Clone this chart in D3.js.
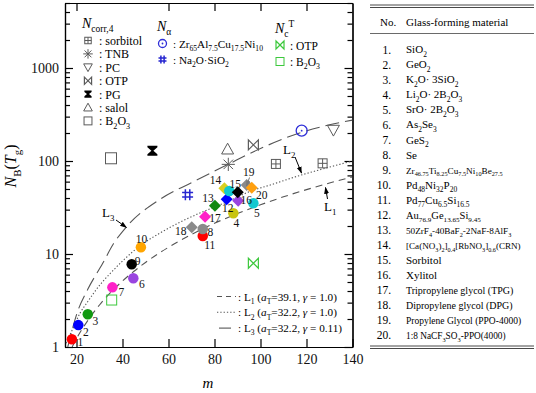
<!DOCTYPE html>
<html>
<head>
<meta charset="utf-8">
<script src="https://cdn.jsdelivr.net/npm/d3@7"></script>
<style>
  body { margin: 0; background: #fff; }
  svg { font-family: "Liberation Serif", "Times New Roman", serif; }
</style>
</head>
<body>
<div id="chart"></div>
<script>
// numbered materials 1..20 : fragility m and N_B(Tg)
const numM  = [18.0, 20.8, 24.9, 88.2, 96.9, 44.7, 35.6, 74.9, 44.0, 48.0, 74.9, 85.3, 80.2, 84.3, 90.1, 90.3, 75.9, 70.1, 94.0, 96.2];
const numNB = [1.21, 1.72, 2.25, 27.4, 35.1, 5.48, 4.38, 18.6, 7.75, 11.8, 15.6, 38.7, 33.0, 50.9, 46.1, 37.4, 25.2, 19.4, 55.2, 51.6];
const extraM = [86.4], extraNB = [47.6];   // unlabelled cyan circle

// N_corr,4 (open grey symbols)
const corrNames = ["sorbitol", "TNB", "PC", "OTP", "PG", "salol", "B_{2}O_{3}"];
const corrM  = [[106.7, 127.0], [86.0], [131.7], [96.9], [53.0], [85.7], [35.0]];
const corrNB = [[93.0, 94.4], [92.0], [215], [149], [129], [134], [107]];
// N_alpha
const alphaNames = ["Zr_{65}Al_{7.5}Cu_{17.5}Ni_{10}", "Na_{2}O·SiO_{2}"];
const alphaM  = [117.9, 68.3];
const alphaNB = [212, 43.4];
// N_c^T
const ncNames = ["OTP", "B_{2}O_{3}"];
const ncM  = [96.9, 35.3];
const ncNB = [7.95, 3.2];

// model lines
const l1M  = [18.1, 20, 25, 30, 35, 40, 45, 50, 60, 70, 80, 90, 100, 110, 120, 130, 140];
const l1NB = [1.0, 1.23, 1.94, 2.83, 3.89, 5.12, 6.53, 8.11, 11.8, 16.2, 21.4, 27.2, 33.8, 41.2, 49.2, 58, 67.6];
const l2M  = [15.5, 18, 21.5, 25, 30, 35, 40, 48.3, 56.3, 65, 75, 85, 95.4, 105, 117.2, 130, 140];
const l2NB = [1.1, 1.5, 2.3, 3.1, 4.6, 6.3, 8.4, 12.6, 16.8, 22, 28.5, 36, 47, 56, 70, 86, 100];
const l3M  = [16.2, 20.3, 24.9, 31.4, 36, 41.8, 56.3, 70.8, 86, 97, 118, 130, 140];
const l3NB = [1.0, 2.34, 4.17, 7.94, 12.8, 19.7, 38.7, 59.8, 92.2, 126, 204, 245, 275];
const lineLegend = ["L_{1} ($a$_{T}=39.1, $γ$ = 1.0)", "L_{2} ($a$_{T}=32.2, $γ$ = 1.0)", "L_{3} ($a$_{T}=32.2, $γ$ = 0.11)"];

const xTicks = [20, 40, 60, 80, 100, 120, 140];
const yTicks = [1, 10, 100, 1000];

const tableNo = d3.range(1, 21);
const tableMat = ["SiO_{2}", "GeO_{2}", "K_{2}O· 3SiO_{2}", "Li_{2}O· 2B_{2}O_{3}", "SrO· 2B_{2}O_{3}", "As_{2}Se_{3}",
  "GeS_{2}", "Se", "Zr_{46.75}Ti_{8.25}Cu_{7.5}Ni_{10}Be_{27.5}", "Pd_{48}Ni_{32}P_{20}", "Pd_{77}Cu_{6.5}Si_{16.5}",
  "Au_{76.9}Ge_{13.65}Si_{9.45}", "50ZrF_{4}-40BaF_{2}-2NaF-8AlF_{3}", "[Ca(NO_{3})_{2}]_{0.4}[RbNO_{3}]_{0.6}(CRN)",
  "Sorbitol", "Xylitol", "Tripropylene glycol (TPG)", "Dipropylene glycol (DPG)", "Propylene Glycol (PPO-4000)",
  "1:8 NaCF_{3}SO_{3}-PPO(4000)"];

// ---- styles ----
const numColor = ["#ff0000", "#0000ff", "#119911", "#c8c410", "#10c8d0", "#9a45e0", "#ff20c8", "#8a8a8a", "#000000", "#ffa500",
  "#ff0000", "#0000ff", "#118811", "#d8d020", "#000000", "#9a45e0", "#ff20c8", "#8a8a8a", "#8a8a8a", "#ffa010"];
const numShape = d3.range(20).map(i => i < 11 ? "circle" : "diamond");
const labelDx = [8.5, 7.5, 7.5, 3, 3.5, 8.5, 9, 7.5, 6, 0.5, 7, 1, -7, -9, -2.5, 8, 10, -11, 2, 10];
const labelDy = [3, 7, 6.5, 10, 10, 6, 5, 3, -3, -8, 9, 9, -7.5, -8, -8, -1, 1, 4, -13.5, 7];
const drawOrder = [10, 0, 1, 2, 3, 4, 5, 6, 7, 8, 9, 11, 12, 13, 18, 19, 15, 14, 16, 17];
const tableSize = [11, 11, 11, 11, 11, 11, 11, 11, 9.2, 11, 11, 10.5, 9.2, 9.1, 11, 11, 10, 10, 9.5, 9.3];

const width = 536, height = 393;
const svg = d3.select("#chart").append("svg").attr("width", width).attr("height", height);
svg.append("rect").attr("width", width).attr("height", height).attr("fill", "#fff");

const x = d3.scaleLinear().domain([15, 140]).range([65, 352.5]);
const y = d3.scaleLog().domain([1, 5000]).range([347, 3]);

svg.append("defs").append("clipPath").attr("id", "clip")
  .append("rect").attr("x", 65).attr("y", 3).attr("width", 287.5).attr("height", 344);

function rich(t, str, fs) {
  const parts = str.match(/_\{[^}]*\}|\^\{[^}]*\}|\$[^$]*\$|[^_^$]+/g);
  let shift = 0;
  parts.forEach(p => {
    let s = p, dy = 0, size = fs, it = false;
    if (p.startsWith("_{")) { s = p.slice(2, -1); dy = fs * 0.3; size = fs * 0.68; }
    else if (p.startsWith("^{")) { s = p.slice(2, -1); dy = -fs * 0.45; size = fs * 0.68; }
    else if (p.startsWith("$")) { s = p.slice(1, -1); it = true; }
    const ts = t.append("tspan").attr("dy", dy - shift).attr("font-size", size).text(s);
    if (it) ts.attr("font-style", "italic");
    shift = dy;
  });
  return t;
}

// ---- axes ----
const minorVals = [];
[1, 10, 100, 1000].forEach(d => d3.range(2, 10).forEach(k => { if (k * d <= 5000) minorVals.push(k * d); }));

function styleAxis(g) {
  g.attr("font-family", null);
  g.selectAll("path.domain").attr("stroke", "#000").attr("stroke-width", 1.2);
  g.selectAll(".tick line").attr("stroke", "#000").attr("stroke-width", 1.2);
  g.selectAll("text").attr("font-family", "Liberation Serif, serif").attr("font-size", 14).attr("fill", "#111");
}
svg.append("g").attr("transform", "translate(0,347)")
  .call(d3.axisBottom(x).tickValues(xTicks).tickSize(-8).tickSizeOuter(0).tickPadding(7).tickFormat(d3.format("d")))
  .call(styleAxis);
svg.append("g").attr("transform", "translate(0,3)")
  .call(d3.axisTop(x).tickValues([20, 60, 80, 100, 120]).tickSize(-8).tickSizeOuter(0).tickFormat(""))
  .call(styleAxis);
svg.append("g").attr("transform", "translate(65,0)")
  .call(d3.axisLeft(y).tickValues(yTicks).tickSize(-8).tickSizeOuter(0).tickPadding(6).tickFormat(d3.format("d")))
  .call(styleAxis);
svg.append("g").attr("transform", "translate(65,0)")
  .call(d3.axisLeft(y).tickValues(minorVals).tickSize(-5).tickSizeOuter(0).tickFormat(""))
  .call(styleAxis);
svg.append("g").attr("transform", "translate(352.5,0)")
  .call(d3.axisRight(y).tickValues(yTicks).tickSize(-8).tickSizeOuter(0).tickFormat(""))
  .call(styleAxis);
svg.append("g").attr("transform", "translate(352.5,0)")
  .call(d3.axisRight(y).tickValues(minorVals).tickSize(-5).tickSizeOuter(0).tickFormat(""))
  .call(styleAxis);

svg.append("text").attr("x", 208).attr("y", 388).attr("text-anchor", "middle")
  .attr("font-size", 15).attr("font-style", "italic").text("m");
rich(svg.append("text").attr("transform", "translate(16,166) rotate(-90)").attr("text-anchor", "middle"),
  "$N$_{B}($T$_{g})", 16);

// ---- model lines ----
const lineGen = d3.line().x(d => x(d[0])).y(d => y(d[1])).curve(d3.curveMonotoneX);
const lines = [
  { m: l1M, nb: l1NB, dash: "7,5" },
  { m: l2M, nb: l2NB, dash: "1.3,2" },
  { m: l3M, nb: l3NB, dash: "14,6" }
];
const plot = svg.append("g").attr("clip-path", "url(#clip)");
lines.forEach(l => {
  plot.append("path").datum(l.m.map((v, i) => [v, l.nb[i]]))
    .attr("d", lineGen).attr("fill", "none").attr("stroke", "#555").attr("stroke-width", 1.1)
    .attr("stroke-dasharray", l.dash);
});

// ---- marker shapes ----
const grey = "#5a5a5a";
function marker(g, type, cx, cy, s, color) {
  const h = s / 2;
  const gg = g.append("g").attr("transform", `translate(${cx},${cy})`);
  if (type === "boxplus") {
    gg.append("rect").attr("x", -h).attr("y", -h).attr("width", s).attr("height", s).attr("fill", "none").attr("stroke", color);
    gg.append("path").attr("d", `M${-h},0H${h}M0,${-h}V${h}`).attr("stroke", color);
  } else if (type === "star") {
    const r = h * 1.1, r2 = r * 0.72;
    gg.append("path").attr("d", `M${-r},0H${r}M0,${-r}V${r}M${-r2},${-r2}L${r2},${r2}M${-r2},${r2}L${r2},${-r2}`)
      .attr("stroke", color);
  } else if (type === "tridown") {
    gg.append("path").attr("d", `M${-h},${-h * 0.8}H${h}L0,${h}Z`).attr("fill", "none").attr("stroke", color);
  } else if (type === "triup") {
    gg.append("path").attr("d", `M${-h},${h * 0.8}H${h}L0,${-h}Z`).attr("fill", "none").attr("stroke", color);
  } else if (type === "bowtie") {
    gg.append("path").attr("d", `M${-h},${-h}L${h},${h}V${-h}L${-h},${h}Z`).attr("fill", "none").attr("stroke", color)
      .attr("stroke-width", 1.2);
  } else if (type === "hourglass") {
    gg.append("path").attr("d", `M${-h},${-h}H${h}V${-h + 1.5}L1,0L${h},${h - 1.5}V${h}H${-h}V${h - 1.5}L-1,0L${-h},${-h + 1.5}Z`)
      .attr("fill", color);
  } else if (type === "square") {
    gg.append("rect").attr("x", -h).attr("y", -h).attr("width", s).attr("height", s).attr("fill", "none").attr("stroke", color);
  } else if (type === "odot") {
    gg.append("circle").attr("r", h).attr("fill", "none").attr("stroke", color).attr("stroke-width", 1.3);
    gg.append("circle").attr("r", 0.9).attr("fill", color);
  } else if (type === "hash") {
    const a = h * 0.4;
    gg.append("path").attr("d", `M${-a},${-h}V${h}M${a},${-h}V${h}M${-h},${-a}H${h}M${-h},${a}H${h}`)
      .attr("stroke", color).attr("stroke-width", 1.5);
  } else if (type === "circle") {
    gg.append("circle").attr("r", h).attr("fill", color);
  } else if (type === "diamond") {
    gg.append("path").attr("d", `M0,${-h}L${h},0L0,${h}L${-h},0Z`).attr("fill", color);
  }
}
const corrShape = ["boxplus", "star", "tridown", "bowtie", "hourglass", "triup", "square"];
const corrColor = [grey, grey, grey, grey, "#000", grey, grey];
const corrSize = [9, 12, 12, 10, 10, 12, 11];

// open symbols in plot
corrM.forEach((ms, k) => ms.forEach((m, j) =>
  marker(svg, corrShape[k], x(m), y(corrNB[k][j]), corrSize[k], corrColor[k])));
const alphaShape = ["odot", "hash"], alphaColor = ["#2e2ed8", "#2626d0"];
alphaM.forEach((m, i) => marker(svg, alphaShape[i], x(m), y(alphaNB[i]), 11, alphaColor[i]));
const ncShape = ["bowtie", "square"], ncColor = "#3cc83c";
ncM.forEach((m, i) => marker(svg, ncShape[i], x(m), y(ncNB[i]), 10, ncColor));

// numbered filled symbols
drawOrder.forEach(i => {
  marker(svg, numShape[i], x(numM[i]), y(numNB[i]), numShape[i] === "circle" ? 10.5 : 12, numColor[i]);
  if (i === 13) extraM.forEach((m, j) => marker(svg, "circle", x(m), y(extraNB[j]), 10.5, "#10c8d0"));
});
const lab = svg.append("g").attr("font-size", 11.5).attr("fill", "#111").attr("text-anchor", "middle");
numM.forEach((m, i) => {
  lab.append("text").attr("x", x(m) + labelDx[i]).attr("y", y(numNB[i]) + labelDy[i]).attr("dy", "0.35em").text(i + 1);
});

// arrows
const defs = svg.select("defs");
defs.append("marker").attr("id", "ah").attr("viewBox", "0 0 10 10").attr("refX", 9).attr("refY", 5)
  .attr("markerWidth", 7).attr("markerHeight", 7).attr("orient", "auto")
  .append("path").attr("d", "M0,1.5L10,5L0,8.5Z").attr("fill", "#000");
defs.append("marker").attr("id", "ahg").attr("viewBox", "0 0 10 10").attr("refX", 9).attr("refY", 5)
  .attr("markerWidth", 6).attr("markerHeight", 6).attr("orient", "auto")
  .append("path").attr("d", "M0,1.5L10,5L0,8.5Z").attr("fill", "#777");
function arrow(x1, y1, x2, y2, id, col) {
  svg.append("line").attr("x1", x1).attr("y1", y1).attr("x2", x2).attr("y2", y2)
    .attr("stroke", col).attr("stroke-width", 1).attr("marker-end", `url(#${id})`);
}
arrow(327.5, 199, 325.5, 187.5, "ah", "#000");
arrow(295, 157, 301.5, 173, "ah", "#000");
arrow(116, 220, 126.5, 227.5, "ah", "#000");
arrow(249.5, 177.5, 246.5, 186, "ahg", "#777");
rich(svg.append("text").attr("x", 324).attr("y", 211).attr("font-size", 13), "L_{1}", 13);
rich(svg.append("text").attr("x", 283).attr("y", 154).attr("font-size", 13), "L_{2}", 13);
rich(svg.append("text").attr("x", 102).attr("y", 217).attr("font-size", 13), "L_{3}", 13);

// ---- legends ----
rich(svg.append("text").attr("x", 82).attr("y", 27.5), "$N$_{corr,4}", 14);
corrNames.forEach((nm, i) => {
  const cy = 40.5 + i * 13.4;
  marker(svg, corrShape[i], 88, cy, corrSize[i] * 0.72, corrColor[i]);
  rich(svg.append("text").attr("x", 99).attr("y", cy + 4.5), ": " + nm, 12);
});
rich(svg.append("text").attr("x", 157).attr("y", 31), "$N$_{α}", 14);
alphaNames.forEach((nm, i) => {
  const cy = 43.5 + i * 16;
  marker(svg, alphaShape[i], 162.5, cy, 8, alphaColor[i]);
  rich(svg.append("text").attr("x", 173).attr("y", cy + 4.5), ": " + nm, 11.2);
});
rich(svg.append("text").attr("x", 275).attr("y", 33), "$N$_{c}^{T}", 14);
ncNames.forEach((nm, i) => {
  const cy = 45 + i * 16.5;
  marker(svg, ncShape[i], 280, cy, 8, ncColor);
  rich(svg.append("text").attr("x", 290).attr("y", cy + 4.5), ": " + nm, 11.5);
});
lineLegend.forEach((t, i) => {
  const cy = 296.5 + i * 15.8;
  svg.append("line").attr("x1", i === 2 ? 219 : 217).attr("x2", i === 2 ? 231 : 236).attr("y1", cy).attr("y2", cy)
    .attr("stroke", "#555").attr("stroke-width", 1.1).attr("stroke-dasharray", lines[i].dash === "7,5" ? "5,4" : lines[i].dash);
  rich(svg.append("text").attr("x", 238).attr("y", cy + 4), ": " + t, 11.2);
});

// ---- table ----
const tb = svg.append("g");
[5, 7.5, 346, 348.5].forEach(v =>
  tb.append("line").attr("x1", 370).attr("x2", 534).attr("y1", v).attr("y2", v).attr("stroke", "#333").attr("stroke-width", 0.9));
tb.append("line").attr("x1", 370).attr("x2", 534).attr("y1", 33.5).attr("y2", 33.5).attr("stroke", "#444").attr("stroke-width", 0.8);
tb.append("text").attr("x", 380).attr("y", 26).attr("font-size", 11).text("No.");
tb.append("text").attr("x", 406).attr("y", 26).attr("font-size", 11).text("Glass-forming material");
tableNo.forEach((n, i) => {
  const cy = 49 + i * 15.05;
  tb.append("text").attr("x", 391).attr("y", cy + 4.5).attr("text-anchor", "end").attr("font-size", 11.5).text(n + ".");
  rich(tb.append("text").attr("x", 406).attr("y", cy + 4.2), tableMat[i], tableSize[i]);
});
</script>
</body>
</html>
